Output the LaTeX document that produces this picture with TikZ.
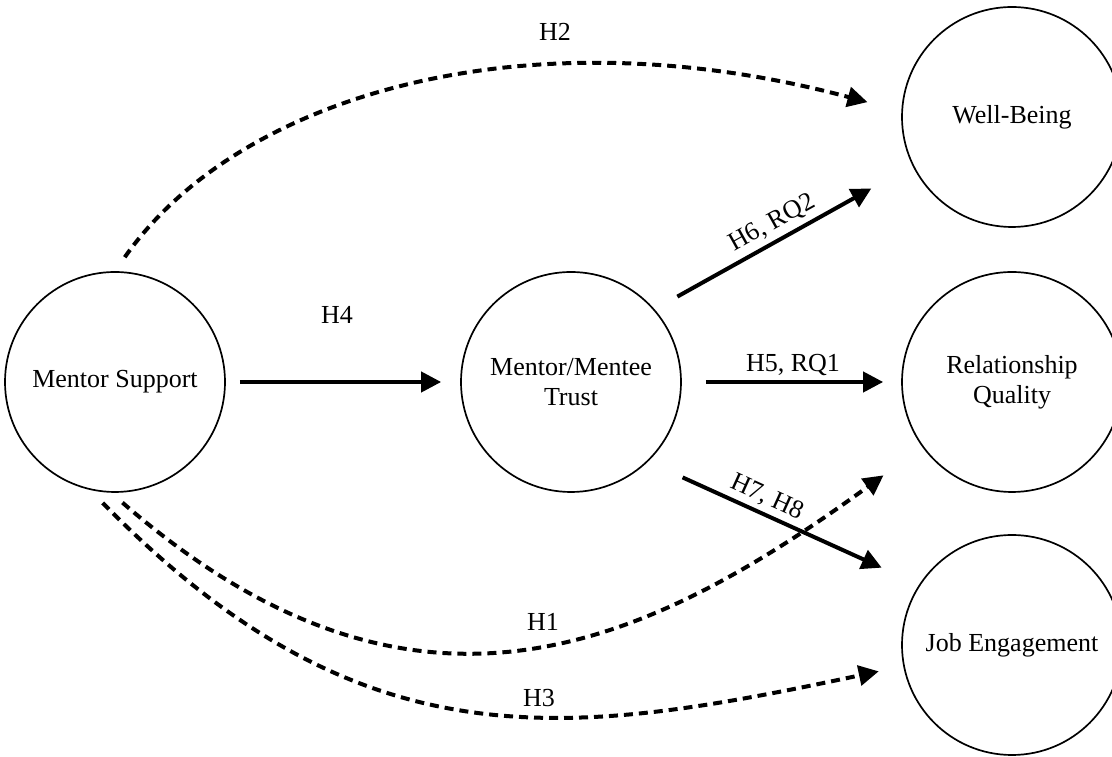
\documentclass[tikz,border=0pt]{standalone}
\usepackage{fontspec}
\setmainfont{Liberation Serif}
\usetikzlibrary{arrows.meta}
\begin{document}
\begin{tikzpicture}[x=1pt,y=1pt,
 var/.style={circle,draw,line width=1.7pt,minimum size=220pt,inner sep=0pt,align=center,font=\fontsize{26}{30}\selectfont},
 lbl/.style={font=\fontsize{26}{30}\selectfont,inner sep=0pt},
 solidarrow/.style={line width=4pt,-{Triangle[length=20pt,width=20pt]}},
 dasharrow/.style={solidarrow,dash pattern=on 9pt off 6pt}]
\useasboundingbox (0,0) rectangle (1112,757);
\clip (0,0) rectangle (1112,757);
\node[var] (ms) at (115,375) {Mentor Support};
\node[var] (trust) at (571,375) {Mentor/Mentee\\Trust};
\node[var] (wb) at (1012,640) {Well-Being};
\node[var] (rq) at (1012,375) {Relationship\\Quality};
\node[var] (je) at (1012,112) {Job Engagement};
% solid arrows
\draw[solidarrow,shorten <=14pt,shorten >=19pt] (ms.east) -- (trust.west);
\draw[solidarrow,shorten <=24pt,shorten >=18pt] (trust.east) -- (rq.west);
\draw[solidarrow,shorten <=26pt,shorten >=47pt] (trust.41.1) -- (wb.206.8)
  node[lbl,pos=0.49,sloped,above=5pt] (l6) {H6, RQ2};
\draw[solidarrow,shorten <=38pt,shorten >=41pt] (trust.-46.8) -- (je.147.5)
  node[lbl,pos=0.415,sloped,above=4pt] (l7) {H7, H8};
% dashed arrows
\draw[dasharrow,shorten <=17pt,shorten >=35pt] (ms.north) .. controls +(55:217) and +(165:385) .. (wb.177);
\draw[dasharrow,shorten <=15pt,shorten >=48pt] (ms.268) .. controls +(-41:398) and +(216:348) .. (rq.216);
\draw[dasharrow,shorten <=18pt,shorten >=25pt] (ms.257) .. controls +(-45.6:388) and +(192:345) .. (je.191.5);
% labels
\node[lbl] (l4) at (337,442) {H4};
\node[lbl] (l5) at (793,392) {H5, RQ1};
\node[lbl] (l2) at (555,725) {H2};
\node[lbl] (l1) at (543,135) {H1};
\node[lbl] (l3) at (539,59) {H3};
\end{tikzpicture}
\end{document}
